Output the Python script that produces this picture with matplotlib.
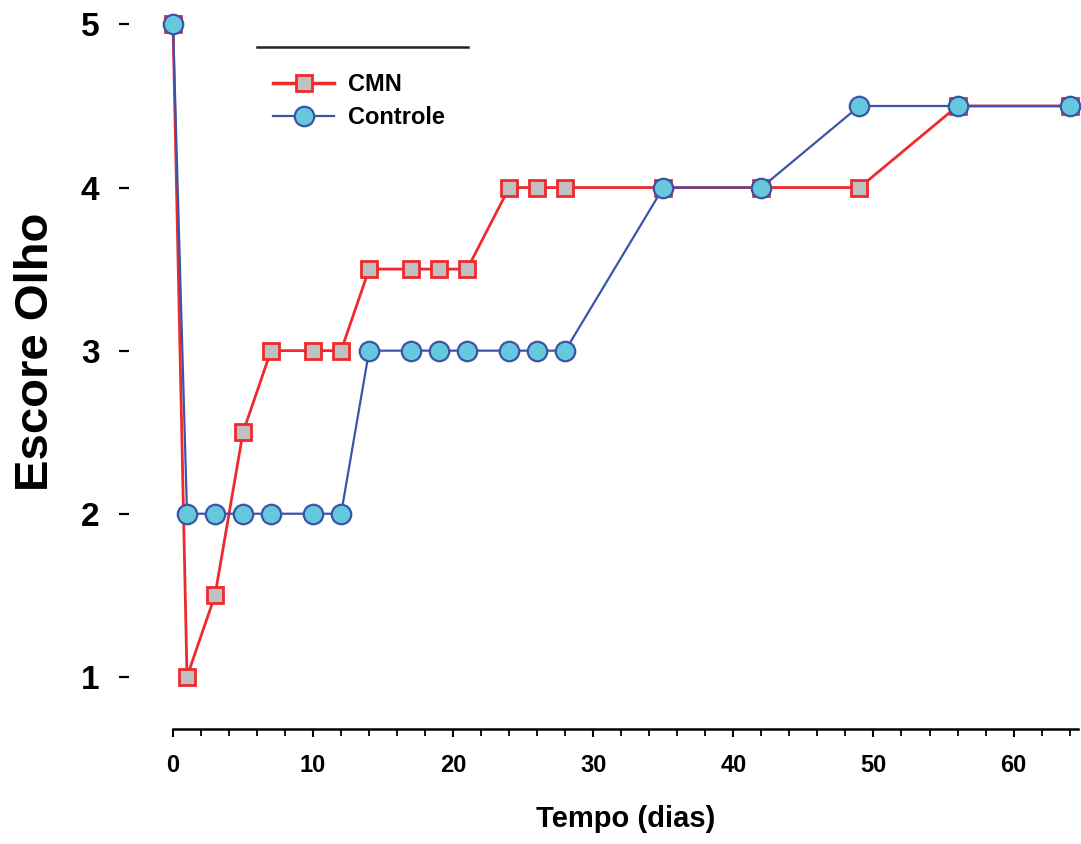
import matplotlib
matplotlib.use("Agg")
import matplotlib.pyplot as plt
from matplotlib.lines import Line2D
import numpy as np

plt.rcParams['font.family'] = ['Liberation Sans', 'DejaVu Sans']

dias = [0, 1, 3, 5, 7, 10, 12, 14, 17, 19, 21, 24, 26, 28, 35, 42, 49, 56, 64]
cmn = [5, 1, 1.5, 2.5, 3, 3, 3, 3.5, 3.5, 3.5, 3.5, 4, 4, 4, 4, 4, 4, 4.5, 4.5]
controle = [5, 2, 2, 2, 2, 2, 2, 3, 3, 3, 3, 3, 3, 3, 4, 4, 4.5, 4.5, 4.5]

red = '#ee2a2e'
blue = '#3a55a8'

fig = plt.figure(figsize=(10.81, 8.44), dpi=100)
ax = fig.add_axes([173 / 1081, 1 - 729 / 844, (1078 - 173) / 1081, 729 / 844])

ax.plot(dias, cmn, color=red, lw=2, marker='s', markersize=12,
        markerfacecolor='#c0c0c0', markeredgecolor=red, markeredgewidth=2,
        clip_on=False, zorder=3)
ax.plot(dias, controle, color=blue, lw=1.6, marker='o', markersize=14,
        markerfacecolor='#66c8dc', markeredgecolor=blue, markeredgewidth=1.6,
        clip_on=False, zorder=4)

ax.set_xlim(0, 64.6)
ax.set_ylim(0.68, 5.15)

for s in ['top', 'right', 'left']:
    ax.spines[s].set_visible(False)
ax.spines['left'].set_position(('outward', 32))
ax.spines['bottom'].set_linewidth(1.8)

ax.set_yticks([1, 2, 3, 4, 5])
ax.tick_params(axis='y', length=7, width=1.6, pad=14, labelsize=24)
for t in ax.get_yticklabels():
    t.set_fontweight('bold')

ax.set_xticks(np.arange(0, 61, 10))
ax.set_xticks(np.arange(0, 65, 2), minor=True)
ax.tick_params(axis='x', which='major', length=6, width=1.5, pad=12, labelsize=17)
ax.tick_params(axis='x', which='minor', length=5, width=1.3)
for t in ax.get_xticklabels():
    t.set_fontweight('bold')

ax.set_xlabel('Tempo (dias)', fontsize=21, fontweight='bold', va='center')
ax.xaxis.set_label_coords(0.5, (729 - 819) / 729)
ax.set_ylabel('Escore Olho', fontsize=34, fontweight='bold', va='center')
ax.yaxis.set_label_coords((36 - 173) / 905, (729 - 352) / 729)

handles = [
    Line2D([], [], color=red, lw=2.5, marker='s', markersize=12,
           markerfacecolor='#c0c0c0', markeredgecolor=red, markeredgewidth=2),
    Line2D([], [], color=blue, lw=1.6, marker='o', markersize=14,
           markerfacecolor='#66c8dc', markeredgecolor=blue, markeredgewidth=1.6),
]
leg = fig.legend(handles, ['CMN', 'Controle'], loc='upper left',
                 bbox_to_anchor=(261 / 1081, 1 - 61 / 844), frameon=False,
                 prop={'size': 17, 'weight': 'bold'}, handlelength=2.6,
                 handletextpad=0.6, labelspacing=0.45, borderpad=0)
fig.add_artist(Line2D([257 / 1081, 468 / 1081], [1 - 47 / 844, 1 - 47 / 844],
                      transform=fig.transFigure, color='#222222', lw=1.8))

fig.savefig('out.png', dpi=100)
